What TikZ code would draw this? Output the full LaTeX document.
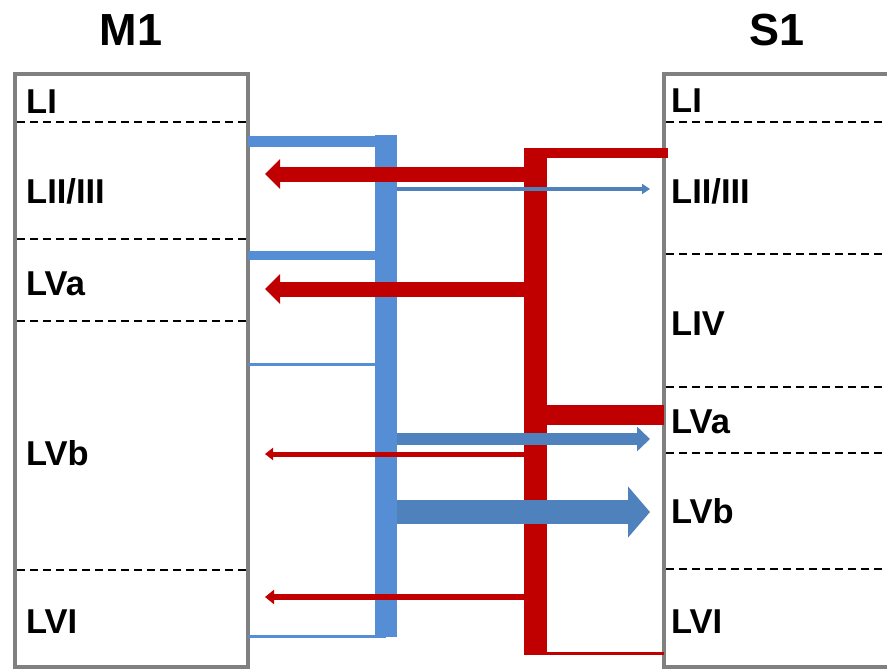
\documentclass[tikz,border=0pt]{standalone}
\usepackage{fontspec}
\setmainfont{Liberation Sans}
\usepackage{tikz}
\usetikzlibrary{arrows.meta}
\definecolor{boxgray}{HTML}{808080}
\definecolor{trunkblue}{HTML}{558ED5}
\definecolor{arrowblue}{HTML}{4F81BD}
\definecolor{projred}{HTML}{C00000}

\tikzset{
  area/.style={draw=boxgray, line width=4pt},
  layerline/.style={black, line width=2.2pt, dash pattern=on 8pt off 5pt},
  layer/.style={anchor=base west, inner sep=0pt, font=\bfseries\fontsize{34.5}{34.5}\selectfont},
  areatitle/.style={anchor=base, inner sep=0pt, font=\bfseries\fontsize{45}{45}\selectfont},
  bluelink/.style={trunkblue, line cap=butt},
  redlink/.style={projred, line cap=butt},
}

\begin{document}
\begin{tikzpicture}[x=1pt, y=-1pt]
    \useasboundingbox (0,0) rectangle (887,670);
    % cortical areas
    \draw[area] (15,74) rectangle (248,667);
    \draw[area] (664,74) rectangle (900,667);
    \node[areatitle] (m1) at (131,45) {M1};
    \node[areatitle] (s1) at (777,45) {S1};
    % layer borders
    \foreach \y in {122,239,321,570}
        \draw[layerline] (17,\y) -- (246,\y);
    \foreach \y in {122,254,387,453,569}
        \draw[layerline] (666,\y) -- (887,\y);
    % layer names
    \node[layer] (m1LI) at (26,113) {LI};
    \node[layer] (m1LII) at (26,203) {LII/III};
    \node[layer] (m1LVa) at (26,295) {LVa};
    \node[layer] (m1LVb) at (26,465) {LVb};
    \node[layer] (m1LVI) at (26,633) {LVI};
    \node[layer] (s1LI) at (671,112) {LI};
    \node[layer] (s1LII) at (671,203) {LII/III};
    \node[layer] (s1LIV) at (671,335) {LIV};
    \node[layer] (s1LVa) at (671,433) {LVa};
    \node[layer] (s1LVb) at (671,523) {LVb};
    \node[layer] (s1LVI) at (671,633) {LVI};
    % M1 -> S1 trunk
    \draw[bluelink, line width=11pt] (248,141) -- (397,141);
    \draw[bluelink, line width=22pt] (386,135) -- (386,637);
    \draw[bluelink, line width=9pt] (248,255) -- (386,255);
    \draw[bluelink, line width=3pt] (248,364) -- (386,364);
    \draw[bluelink, line width=3pt] (248,636) -- (386,636);
    % S1 -> M1 trunk
    \draw[redlink, line width=23pt] (535,148) -- (535,655);
    \draw[redlink, line width=10pt] (524,153) -- (668,153);
    \draw[redlink, line width=20pt] (546,415) -- (664,415);
    \draw[redlink, line width=3pt] (546,653) -- (664,653);
    % M1 -> S1 arrows
    \draw[arrowblue, line width=4pt, -{Triangle[length=8pt, width=10pt]}] (397,189) -- (650,189);
    \draw[arrowblue, line width=12pt, -{Triangle[length=13pt, width=24pt]}] (397,439) -- (650,439);
    \draw[arrowblue, line width=24pt, -{Triangle[length=22pt, width=50pt]}] (397,512) -- (650,512);
    % S1 -> M1 arrows
    \draw[projred, line width=15pt, -{Triangle[length=15pt, width=29pt]}] (524,174) -- (265,174);
    \draw[projred, line width=15pt, -{Triangle[length=15pt, width=29pt]}] (524,289) -- (265,289);
    \draw[projred, line width=5pt, -{Triangle[length=8pt, width=12pt]}] (524,454) -- (265,454);
    \draw[projred, line width=6pt, -{Triangle[length=9pt, width=14pt]}] (524,597) -- (265,597);
\end{tikzpicture}
\end{document}
